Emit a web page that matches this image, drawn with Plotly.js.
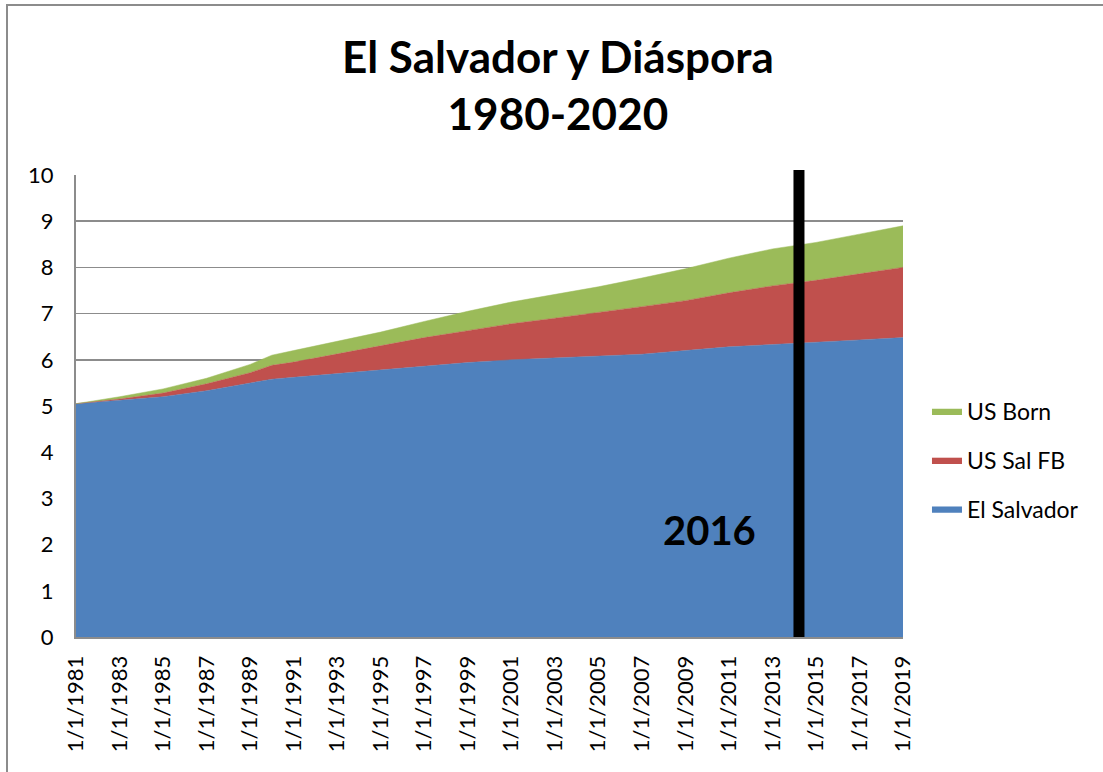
<!DOCTYPE html>
<html>
<head>
<meta charset="utf-8">
<script src="https://cdn.plot.ly/plotly-3.0.1.min.js"></script>
<style>
html,body{margin:0;padding:0;background:#fff;}
#wrap{position:relative;width:1103px;height:772px;overflow:hidden;}
#chart{width:1103px;height:772px;}
#frame{position:absolute;left:6px;top:4px;width:1110px;height:800px;border-left:2px solid #8c8c8c;border-top:2px solid #8c8c8c;pointer-events:none;}
</style>
</head>
<body>
<div id="wrap"><div id="chart"></div><div id="frame"></div></div>
<script>
// Data (millions)
const years = [1981,1983,1985,1987,1989,1990,1991,1993,1995,1997,1999,2001,2003,2005,2007,2009,2011,2013,2014,2015,2017,2019];
const elSalvador = [5.05,5.12,5.20,5.33,5.50,5.58,5.62,5.70,5.77,5.86,5.94,6.00,6.04,6.08,6.12,6.20,6.28,6.33,6.35,6.38,6.43,6.48];
const usSalFB   = [0.00,0.03,0.08,0.15,0.22,0.30,0.33,0.43,0.53,0.62,0.69,0.78,0.86,0.94,1.03,1.08,1.17,1.27,1.31,1.34,1.43,1.52];
const usBorn    = [0.00,0.05,0.09,0.12,0.18,0.22,0.25,0.27,0.30,0.35,0.42,0.47,0.52,0.56,0.62,0.69,0.75,0.80,0.81,0.82,0.86,0.90];
const tickYears = [1981,1983,1985,1987,1989,1991,1993,1995,1997,1999,2001,2003,2005,2007,2009,2011,2013,2015,2017,2019];
const tickLabels = tickYears.map(y => '1/1/' + y);
const markerYear = 2014.22;
const markerLabel = '2016';
const titleText = 'El Salvador y Diáspora<br>1980-2020';

const FONT = 'Lato, "Open Sans", "Liberation Sans", sans-serif';

const traces = [
  {name:'El Salvador', x:years, y:elSalvador, color:'#4f81bd', grp:'a', rank:3},
  {name:'US Sal FB',   x:years, y:usSalFB,    color:'#c0504d', grp:'b', rank:2},
  {name:'US Born',     x:years, y:usBorn,     color:'#9bbb59', grp:'c', rank:1}
].map(t => ({
  type:'scatter', mode:'lines', stackgroup:'one', name:t.name, x:t.x, y:t.y,
  line:{width:0.5, color:t.color, shape:'linear'}, fillcolor:t.color,
  legendgroup:t.grp, legendrank:t.rank, hoverinfo:'x+y+name'
}));

const layout = {
  width:1103, height:772,
  margin:{l:76, r:200, t:175, b:135},
  paper_bgcolor:'#fff', plot_bgcolor:'#fff',
  font:{family:FONT, color:'#000', size:21},
  xaxis:{range:[1981,2019], tickvals:tickYears, ticktext:tickLabels, tickangle:-90,
         showgrid:false, zeroline:false, showline:true, linecolor:'#8c8c8c', linewidth:2,
         ticks:'', tickfont:{size:22, family:FONT}, ticklabelstandoff:8, fixedrange:true},
  yaxis:{range:[0,10], dtick:1, showgrid:true, gridcolor:'#8c8c8c', gridwidth:1.5,
         zeroline:false, showline:true, linecolor:'#8c8c8c', linewidth:2,
         ticks:'', tickfont:{size:22, family:FONT},
         ticklabelstandoff:16, fixedrange:true},
  showlegend:true,
  legend:{x:1.029, xanchor:'left', y:0.383, yanchor:'middle', traceorder:'grouped',
          tracegroupgap:16, font:{size:23, family:FONT}, bgcolor:'rgba(0,0,0,0)', itemwidth:30},
  shapes:[{type:'line', xref:'x', yref:'paper', x0:markerYear, x1:markerYear, y0:0, y1:1.0108,
           line:{color:'#000', width:11}, layer:'above'}],
  annotations:[
    {xref:'paper', yref:'paper', x:0.583, y:1.1965, text:'<b>'+titleText+'</b>', showarrow:false,
     font:{family:FONT, size:44, color:'#000'}, xanchor:'center', yanchor:'middle', align:'center'},
    {xref:'x', yref:'y', x:2010.1, y:2.32, text:'<b>'+markerLabel+'</b>', showarrow:false,
     font:{family:FONT, size:40, color:'#000'}, xanchor:'center', yanchor:'middle'}]
};

Plotly.newPlot('chart', traces, layout, {displayModeBar:false, staticPlot:true});
</script>
</body>
</html>
